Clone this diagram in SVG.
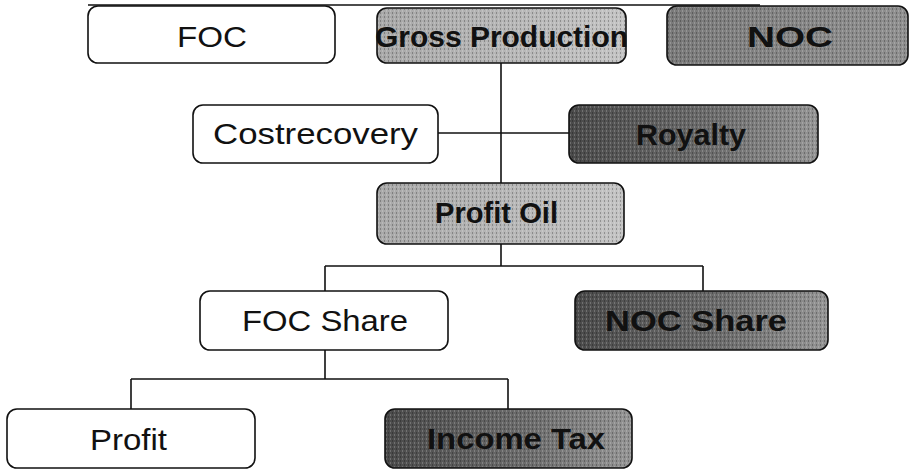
<svg xmlns="http://www.w3.org/2000/svg" width="910" height="470" viewBox="0 0 910 470">
<style>
.box{stroke:#111;stroke-width:1.6}
.w{fill:#fff}
.t{font-family:"Liberation Sans",Arial,sans-serif;font-size:30px;fill:#111;text-anchor:start}
.b{font-weight:bold}
.c{fill:none;stroke:#111;stroke-width:1.6}
</style>
<defs>
<linearGradient id="gLight" x1="0" y1="0" x2="1" y2="0">
<stop offset="0" stop-color="#a8a8a8"/><stop offset="1" stop-color="#c4c4c4"/>
</linearGradient>
<linearGradient id="gMid" x1="0" y1="0" x2="1" y2="0">
<stop offset="0" stop-color="#7a7a7a"/><stop offset="1" stop-color="#909090"/>
</linearGradient>
<linearGradient id="gDark" x1="0" y1="0" x2="1" y2="0">
<stop offset="0" stop-color="#4a4a4a"/><stop offset="0.6" stop-color="#6e6e6e"/><stop offset="1" stop-color="#959595"/>
</linearGradient>
<pattern id="dots" width="4" height="4" patternUnits="userSpaceOnUse">
<rect x="0" y="0" width="1" height="2" fill="#000" opacity="0.25"/>
<rect x="2" y="2" width="1" height="2" fill="#fff" opacity="0.2"/>
</pattern>
</defs>
<g id="connectors">
<path class="c" d="M88 5H760"/>
<path class="c" d="M501 63V183"/>
<path class="c" d="M438 133H569"/>
<path class="c" d="M501 244V266M325 266H703M325 266V291M703 266V291"/>
<path class="c" d="M325 350V379M131 379H508M131 379V409M508 379V409"/>
</g>
<g id="foc">
<rect class="box w" x="88" y="6" width="247" height="57" rx="10"/>
<text class="t" x="177" y="47" textLength="70" lengthAdjust="spacingAndGlyphs">FOC</text>
</g>
<g id="gross-production">
<rect class="box" x="377" y="8" width="249" height="55" rx="10" fill="url(#gLight)"/>
<rect x="378" y="9" width="247" height="53" rx="9" fill="url(#dots)"/>
<text class="t b" x="375" y="47" textLength="253" lengthAdjust="spacingAndGlyphs">Gross Production</text>
</g>
<g id="noc">
<rect class="box" x="667" y="6" width="241" height="59" rx="10" fill="url(#gMid)"/>
<rect x="668" y="7" width="239" height="57" rx="9" fill="url(#dots)"/>
<text class="t b" x="747" y="47" textLength="86" lengthAdjust="spacingAndGlyphs" fill="#222">NOC</text>
</g>
<g id="cost-recovery">
<rect class="box w" x="193" y="105" width="245" height="58" rx="10"/>
<text class="t" x="213" y="144" textLength="205" lengthAdjust="spacingAndGlyphs">Costrecovery</text>
</g>
<g id="royalty">
<rect class="box" x="569" y="105" width="249" height="58" rx="10" fill="url(#gDark)"/>
<rect x="570" y="106" width="247" height="56" rx="9" fill="url(#dots)"/>
<text class="t b" x="636" y="145" textLength="110" lengthAdjust="spacingAndGlyphs" fill="#222">Royalty</text>
</g>
<g id="profit-oil">
<rect class="box" x="377" y="183" width="247" height="61" rx="10" fill="url(#gLight)"/>
<rect x="378" y="184" width="245" height="59" rx="9" fill="url(#dots)"/>
<text class="t b" x="435" y="223" textLength="123" lengthAdjust="spacingAndGlyphs">Profit Oil</text>
</g>
<g id="foc-share">
<rect class="box w" x="200" y="291" width="248" height="59" rx="10"/>
<text class="t" x="242" y="331" textLength="166" lengthAdjust="spacingAndGlyphs">FOC Share</text>
</g>
<g id="noc-share">
<rect class="box" x="575" y="291" width="253" height="59" rx="10" fill="url(#gDark)"/>
<rect x="576" y="292" width="251" height="57" rx="9" fill="url(#dots)"/>
<text class="t b" x="605" y="331" textLength="182" lengthAdjust="spacingAndGlyphs" fill="#222">NOC Share</text>
</g>
<g id="profit">
<rect class="box w" x="7" y="409" width="248" height="59" rx="10"/>
<text class="t" x="90" y="450" textLength="77" lengthAdjust="spacingAndGlyphs">Profit</text>
</g>
<g id="income-tax">
<rect class="box" x="385" y="409" width="247" height="59" rx="10" fill="url(#gDark)"/>
<rect x="386" y="410" width="245" height="57" rx="9" fill="url(#dots)"/>
<text class="t b" x="427" y="449" textLength="178" lengthAdjust="spacingAndGlyphs" fill="#222">Income Tax</text>
</g>
</svg>
